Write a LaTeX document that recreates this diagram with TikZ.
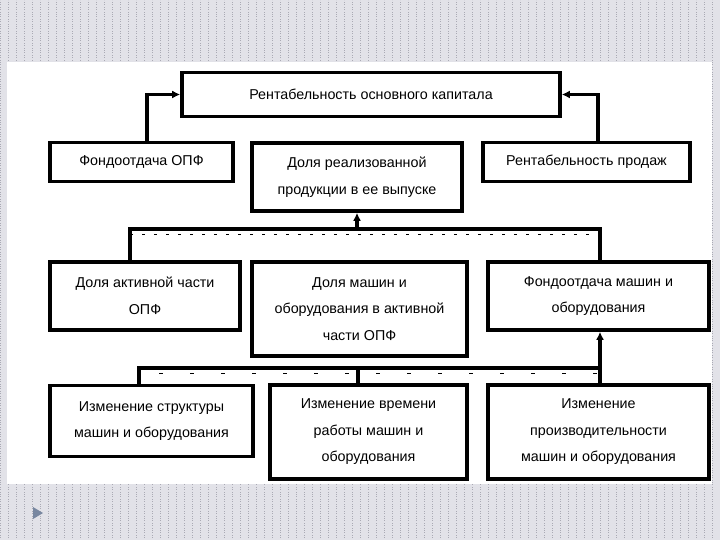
\documentclass[tikz,border=0pt]{standalone}
\usepackage{fontspec}
\setmainfont{Liberation Sans}
\usetikzlibrary{arrows.meta, positioning}
\definecolor{slidebg}{RGB}{226,226,232}
\definecolor{slidegrid}{RGB}{170,170,180}
\definecolor{bullet}{RGB}{120,135,160}
\tikzset{
  blok/.style   = {rectangle, draw, line width=3.6pt, fill=white, align=center,
                   inner sep=2pt, font=\fontsize{14.3}{26.5}\selectfont},
  link/.style   = {line width=3.6pt},
  strel/.style  = {link, -{Latex[length=8pt,width=8pt]}},
  shtrih/.style = {line width=0.8pt, dash pattern=on 3pt off 9pt},
  redkij/.style = {line width=0.8pt, dash pattern=on 4pt off 27pt}
}

\begin{document}
\begin{tikzpicture}[x=1pt, y=-1pt]

  % fon slajda
  \useasboundingbox (0,0) rectangle (720,540);
  \fill[slidebg] (0,0) rectangle (720,540);
  \draw[slidegrid, line width=0.4pt, dotted, step=8] (0,0) grid (720,540);
  \fill[white] (7,62) rectangle (712,484);
  \fill[bullet] (33,507) -- (43,513) -- (33,519) -- cycle;

  % verhnij uroven
  \node[blok, minimum width=378, minimum height=44] (kap) at (371,94.5)
    {Рентабельность основного капитала};

  \node[blok, minimum width=183, minimum height=39] (fo) at (141.5,162)
    {Фондоотдача ОПФ};
  \node[blok, minimum width=210, minimum height=68] (dolyaReal) at (357,177)
    {Доля реализованной\\продукции в ее выпуске};
  \node[blok, minimum width=207, minimum height=39] (rentProd) at (586.5,162)
    {Рентабельность продаж};

  % srednij uroven
  \node[blok, minimum width=190, minimum height=68] (dolyaAkt) at (145,296)
    {Доля активной части\\ОПФ};
  \node[blok, minimum width=215, minimum height=94] (dolyaMash) at (359.5,309)
    {Доля машин и\\оборудования в активной\\части ОПФ};
  \node[blok, minimum width=221, minimum height=68] (foMash) at (598.5,296)
    {Фондоотдача машин и\\оборудования};

  % nizhnij uroven
  \node[blok, minimum width=203, minimum height=71] (izmStr) at (151.5,421)
    {Изменение структуры\\машин и оборудования};
  \node[blok, minimum width=197, minimum height=94] (izmVr) at (368.5,432)
    {Изменение времени\\работы машин и\\оборудования};
  \node[blok, minimum width=221, minimum height=94] (izmProiz) at (598.5,432)
    {Изменение\\производительности\\машин и оборудования};

  % tochki shin
  \coordinate (topL) at (147,0);
  \coordinate (topR) at (598,0);
  \coordinate (busA) at (130,229);
  \coordinate (busB) at (600,229);
  \coordinate (busC) at (139,368);
  \coordinate (busD) at (600,368);
  \coordinate (busE) at (358,368);

  \draw[strel] (fo.north -| topL) |- (kap.west);
  \draw[strel] (rentProd.north -| topR) |- (kap.east);

  \draw[shtrih] ([yshift=-5]busA) -- ([yshift=-5]busB);
  \draw[link] (dolyaAkt.north -| busA) |- (busB) -- (foMash.north -| busB);
  \draw[strel] (dolyaReal.south |- busA) -- (dolyaReal.south);

  \draw[redkij] ([xshift=20,yshift=-5]busC) -- ([yshift=-5]busD);
  \draw[link] (izmStr.north -| busC) |- (busD);
  \draw[link] (busE) -- (izmVr.north -| busE);
  \draw[strel] (izmProiz.north -| busD) -- (foMash.south -| busD);

\end{tikzpicture}
\end{document}
